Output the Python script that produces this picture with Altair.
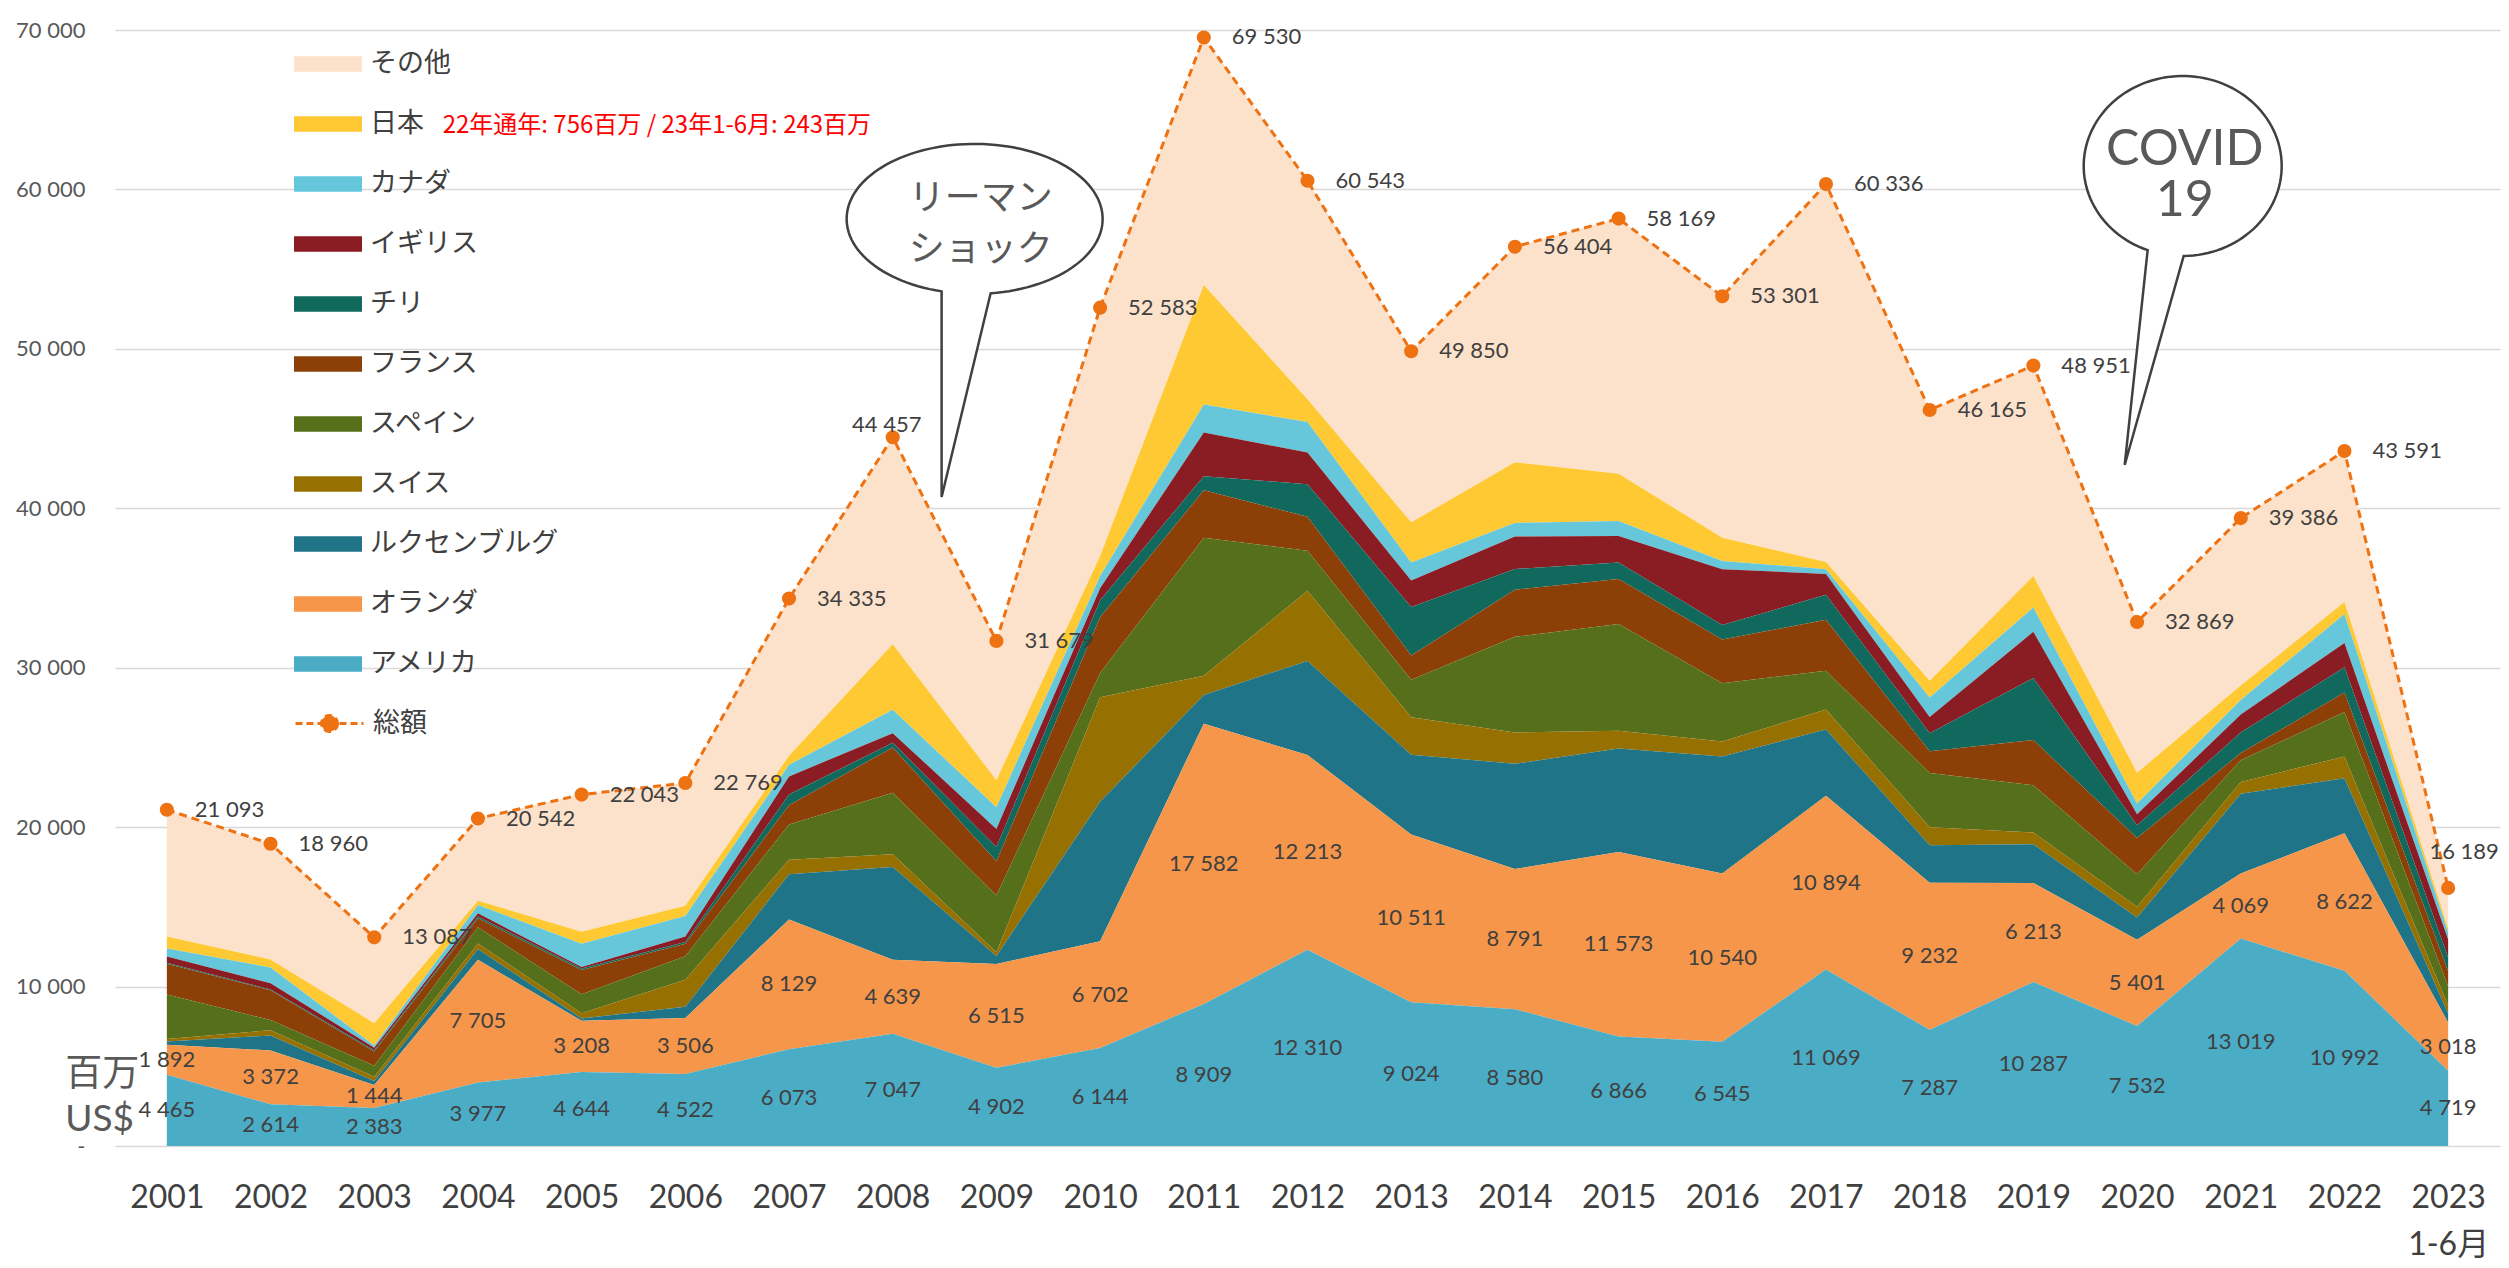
import math
import altair as alt
import pandas as pd

# ---------------- data ----------------
years = list(range(2001, 2024))
usa = [4465, 2614, 2383, 3977, 4644, 4522, 6073, 7047, 4902, 6144, 8909, 12310,
       9024, 8580, 6866, 6545, 11069, 7287, 10287, 7532, 13019, 10992, 4719]
nld = [1892, 3372, 1444, 7705, 3208, 3506, 8129, 4639, 6515, 6702, 17582, 12213,
       10511, 8791, 11573, 10540, 10894, 9232, 6213, 5401, 4069, 8622, 3018]
lux = [200, 950, 250, 680, 150, 700, 2850, 5820, 500, 8750, 1800, 5900,
       5000, 6600, 6500, 7340, 4160, 2350, 2420, 1400, 5000, 3450, 570]
swi = [150, 330, 270, 340, 320, 1700, 900, 800, 230, 6550, 1200, 4400,
       2360, 1970, 1100, 950, 1250, 1130, 750, 680, 750, 1360, 500]
spa = [2800, 640, 680, 1020, 1200, 1470, 2220, 3850, 3560, 1520, 8660, 2520,
       2350, 6000, 6700, 3650, 2440, 3400, 2950, 2040, 1360, 2800, 1200]
fra = [1930, 1860, 900, 570, 1520, 790, 1200, 2840, 2150, 3500, 2980, 2130,
       1520, 2950, 2830, 2740, 3190, 1360, 2840, 2270, 450, 1220, 950]
chl = [50, 50, 80, 100, 90, 110, 680, 300, 900, 1060, 880, 2040,
       3040, 1300, 1030, 910, 1580, 1130, 3900, 800, 1290, 1580, 860]
gbr = [400, 400, 150, 200, 90, 340, 1130, 600, 1130, 760, 2740, 1980,
       1670, 2040, 1670, 3500, 1300, 1020, 2890, 680, 1130, 1520, 1130]
can = [500, 980, 150, 520, 1470, 1290, 730, 1470, 1360, 760, 1760, 1915,
       1125, 850, 940, 520, 300, 1220, 1520, 680, 910, 1820, 450]
jpn = [750, 500, 1400, 270, 750, 635, 570, 4100, 1700, 1260, 7500, 1430,
       2520, 3800, 2950, 1460, 450, 1060, 1980, 1930, 910, 756, 243]
other = [7956, 7264, 5380, 5160, 8601, 7706, 9853, 12991, 8732, 15577, 15519, 13705,
         10730, 13523, 16010, 15146, 23703, 16976, 13201, 9456, 10498, 9471, 2549]
total = [21093, 18960, 13087, 20542, 22043, 22769, 34335, 44457, 31679, 52583, 69530, 60543,
         49850, 56404, 58169, 53301, 60336, 46165, 48951, 32869, 39386, 43591, 16189]

series_names = ["その他", "日本", "カナダ", "イギリス", "チリ", "フランス",
                "スペイン", "スイス", "ルクセンブルグ", "オランダ", "アメリカ"]
series_values = [other, jpn, can, gbr, chl, fra, spa, swi, lux, nld, usa]
series_colors = ["#FCE2CB", "#FFC933", "#66C7DB", "#8A1C24", "#10695C", "#8C4008",
                 "#566F1A", "#967000", "#1F7487", "#F5964A", "#4BACC6"]
total_name = "総額"
ORANGE = "#EE7212"

note_text = "22年通年: 756百万 / 23年1-6月: 243百万"
unit_text = ["百万", "US$"]
lehman_text = ["リーマン", "ショック"]
covid_text = ["COVID", "19"]

# annotation anchors (data units: year, value); text anchors are the first line
note_pos = (2003.66, 64000)
unit_pos = (2000.02, 4450)
lehman_pos = (2008.79, 58150)
lehman_text_pos = (2008.85, 59400)
covid_pos = (2020.44, 61470)
covid_text_pos = (2020.46, 62470)

# ---------------- helpers ----------------
def fmt(v):
    return f"{v:,}".replace(",", " ")

NUM_FONT = "Lato, Noto Sans CJK JP"
JP_FONT = "Noto Sans CJK JP, Lato"
TXT = "#404040"


def bubble_path(ry, ul, ur, tip, n=120):
    tl = math.acos(ul)
    tr = math.acos(ur) + 2 * math.pi
    pts = []
    for i in range(n + 1):
        t = tl + (tr - tl) * i / n
        pts.append((math.cos(t), ry * math.sin(t)))
    d = "M" + " L".join(f"{x:.4f},{y:.4f}" for x, y in pts)
    d += f" L{tip[0]:.4f},{tip[1]:.4f} Z"
    return d


rows = []
n_series = len(series_names)
for k, (name, vals) in enumerate(zip(series_names, series_values)):
    for yr, v in zip(years, vals):
        rows.append({"year": yr, "country": name, "value": v, "stack_order": n_series - 1 - k})
area_df = pd.DataFrame(rows)

lab_df = pd.DataFrame({"year": years, "usa": usa, "nld": nld})
lab_df["us_mid"] = lab_df["usa"] / 2
lab_df["nl_mid"] = lab_df["usa"] + lab_df["nld"] / 2
lab_df["us_lbl"] = [fmt(v) for v in usa]
lab_df["nl_lbl"] = [fmt(v) for v in nld]

tot_df = pd.DataFrame({"year": years, "total": total,
                       "lbl": [fmt(v) for v in total], "series": total_name})

x_scale = alt.Scale(domain=[2000.5, 2023.5], nice=False, zero=False)
y_scale = alt.Scale(domain=[0, 70000], nice=False, zero=True)

nb = "\u00a0"
x_axis = alt.Axis(
    values=years, grid=False, domain=False, ticks=False,
    labelExpr="datum.value == 2023 ? ['2023', '1-6月'] : format(datum.value, 'd')",
    labelFont=NUM_FONT, labelFontSize=32, labelColor=TXT, labelPadding=36,
    labelLineHeight=47, labelFlush=False, labelOverlap=False, title=None,
)
y_axis = alt.Axis(
    values=list(range(0, 70001, 10000)), grid=True, gridColor="#D9D9D9", gridWidth=1.6,
    domain=False, ticks=False,
    labelExpr=f"datum.value == 0 ? '-{nb}{nb}{nb}' : replace(format(datum.value, ','), ',', ' ')",
    labelFont=NUM_FONT, labelFontSize=22, labelColor="#595959", labelPadding=30, title=None,
)

X = alt.X("year:Q", scale=x_scale, axis=x_axis, title=None)

RECT_PATH = "M-1.7,-0.39L1.7,-0.39L1.7,0.39L-1.7,0.39Z"
LINE_DOT_PATH = ("M-1.7,0L1.7,0M0.4,0C0.4,0.221 0.221,0.4 0,0.4C-0.221,0.4 -0.4,0.221 -0.4,0"
                 "C-0.4,-0.221 -0.221,-0.4 0,-0.4C0.221,-0.4 0.4,-0.221 0.4,0Z")

areas = alt.Chart(area_df).mark_area(interpolate="linear", opacity=1).encode(
    x=X,
    y=alt.Y("value:Q", stack="zero", scale=y_scale, axis=y_axis, title=None),
    color=alt.Color("country:N",
                    scale=alt.Scale(domain=series_names, range=series_colors),
                    legend=alt.Legend(orient="none", legendX=193, legendY=14, title=None,
                                      symbolType=RECT_PATH, symbolSize=1600,
                                      symbolStrokeWidth=0, symbolOpacity=1,
                                      labelFont=JP_FONT, labelFontSize=27, labelColor=TXT,
                                      rowPadding=27, labelOffset=22, padding=0,
                                      labelLimit=400)),
    order=alt.Order("stack_order:Q", sort="ascending"),
)

Xs = alt.X("year:Q", scale=x_scale, title=None)

us_labels = alt.Chart(lab_df).mark_text(font=NUM_FONT, fontSize=22, color=TXT).encode(
    x=Xs, y=alt.Y("us_mid:Q", scale=y_scale, title=None), text="us_lbl:N")
nl_labels = alt.Chart(lab_df).mark_text(font=NUM_FONT, fontSize=22, color=TXT).encode(
    x=Xs, y=alt.Y("nl_mid:Q", scale=y_scale, title=None), text="nl_lbl:N")

Yt = alt.Y("total:Q", scale=y_scale, title=None)
tot_line = alt.Chart(tot_df).mark_line(color=ORANGE, strokeDash=[8, 5], strokeWidth=3).encode(
    x=Xs, y=Yt)
tot_pts = alt.Chart(tot_df).mark_point(filled=True, size=200, opacity=1).encode(
    x=Xs, y=Yt,
    color=alt.Color("series:N", scale=alt.Scale(domain=[total_name], range=[ORANGE]),
                    legend=alt.Legend(orient="none", legendX=193, legendY=672, title=None,
                                      symbolType=LINE_DOT_PATH, symbolSize=1600,
                                      symbolStrokeWidth=3, symbolDash=[7, 4],
                                      symbolStrokeColor=ORANGE, symbolFillColor=ORANGE,
                                      symbolOpacity=1,
                                      labelFont=JP_FONT, labelFontSize=27, labelColor=TXT,
                                      labelOffset=22, padding=0)),
)
tot_lbl = alt.Chart(tot_df).transform_filter(
    "datum.year != 2008 && datum.year != 2023").mark_text(
    align="left", baseline="middle", dx=28, font=NUM_FONT, fontSize=22, color=TXT).encode(
    x=Xs, y=Yt, text="lbl:N")
tot_lbl_2008 = alt.Chart(tot_df).transform_filter("datum.year == 2008").mark_text(
    align="center", baseline="middle", dx=-6, dy=-12, font=NUM_FONT, fontSize=22, color=TXT).encode(
    x=Xs, y=Yt, text="lbl:N")
tot_lbl_2023 = alt.Chart(tot_df).transform_filter("datum.year == 2023").mark_text(
    align="center", baseline="middle", dx=16, dy=-36, font=NUM_FONT, fontSize=22, color=TXT).encode(
    x=Xs, y=Yt, text="lbl:N")

# annotations
ann = pd.DataFrame({
    "key": ["note", "unit", "lehman", "covid"],
    "x": [note_pos[0], unit_pos[0], lehman_text_pos[0], covid_text_pos[0]],
    "y": [note_pos[1], unit_pos[1], lehman_text_pos[1], covid_text_pos[1]],
})
bub = pd.DataFrame({"key": ["lehman", "covid"],
                    "x": [lehman_pos[0], covid_pos[0]],
                    "y": [lehman_pos[1], covid_pos[1]]})

Xa = alt.X("x:Q", scale=x_scale, title=None)
Ya = alt.Y("y:Q", scale=y_scale, title=None)

lehman_shape = bubble_path(75 / 128, -0.258, 0.125, (-0.258, 2.172))
covid_shape = bubble_path(90 / 99, -0.354, 0.01, (-0.586, 3.02))

bub1 = alt.Chart(bub).transform_filter("datum.key == 'lehman'").mark_point(
    shape=lehman_shape, size=256 * 256, filled=True, fill="white", stroke="#404040",
    strokeWidth=2.5, opacity=1).encode(x=Xa, y=Ya)
bub2 = alt.Chart(bub).transform_filter("datum.key == 'covid'").mark_point(
    shape=covid_shape, size=198 * 198, filled=True, fill="white", stroke="#404040",
    strokeWidth=2.5, opacity=1).encode(x=Xa, y=Ya)

note = alt.Chart(ann).transform_filter("datum.key == 'note'").mark_text(
    text=note_text, align="left", baseline="middle", font=JP_FONT, fontSize=24,
    color="#FF0000").encode(x=Xa, y=Ya)
unit = alt.Chart(ann).transform_filter("datum.key == 'unit'").mark_text(
    text=unit_text, align="left", baseline="middle", font=NUM_FONT, fontSize=37,
    lineHeight=45, color="#595959").encode(x=Xa, y=Ya)
lehman_txt = alt.Chart(ann).transform_filter("datum.key == 'lehman'").mark_text(
    text=lehman_text, align="center", baseline="middle", font=JP_FONT, fontSize=36,
    lineHeight=51, color="#595959").encode(x=Xa, y=Ya)
covid_txt = alt.Chart(ann).transform_filter("datum.key == 'covid'").mark_text(
    text=covid_text, align="center", baseline="middle", font=NUM_FONT, fontSize=50,
    lineHeight=51, color="#595959").encode(x=Xa, y=Ya)

chart = alt.layer(
    areas, us_labels, nl_labels, tot_line, tot_pts, tot_lbl, tot_lbl_2008, tot_lbl_2023,
    bub1, bub2, note, unit, lehman_txt, covid_txt,
).resolve_scale(color="independent").properties(
    width=2385, height=1116,
    autosize=alt.AutoSizeParams(type="none"),
    padding={"left": 107, "top": 22, "right": 1, "bottom": 120},
    background="white",
).configure_view(stroke=None)

chart.save("out.html", embed_options={"renderer": "svg", "actions": False})
